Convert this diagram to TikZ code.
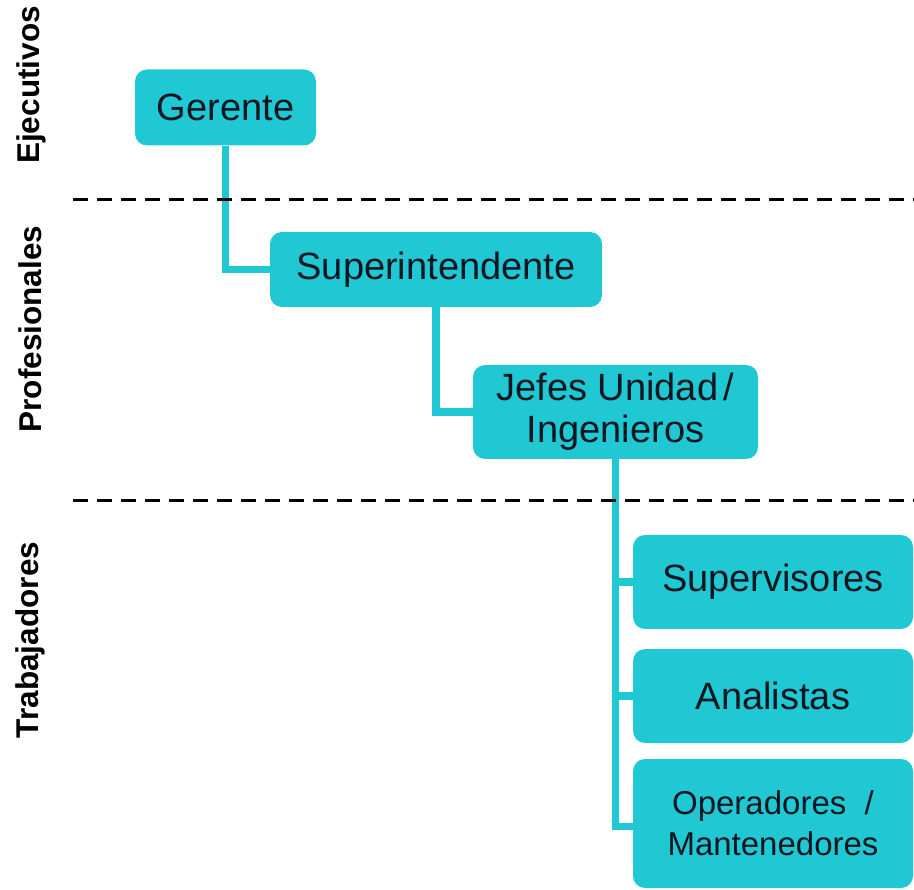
\documentclass[tikz,border=0pt]{standalone}
\usepackage{fontspec}
\setmainfont{Liberation Sans}
\usetikzlibrary{backgrounds}
\definecolor{boxteal}{RGB}{32,200,212}
\definecolor{txtdark}{RGB}{14,22,32}
\tikzset{
  orgbox/.style={draw=none, fill=boxteal, rounded corners=12pt, inner sep=0pt,
    text=txtdark, align=center, font=\fontsize{38}{42}\selectfont},
  conn/.style={draw=boxteal, line width=7.5pt, line join=miter},
  sepline/.style={draw=black, line width=3pt, dash pattern=on 15pt off 9pt},
  levellabel/.style={rotate=90, font=\bfseries\fontsize{31.5}{34}\selectfont, text=black, inner sep=0pt}
}
\begin{document}
\begin{tikzpicture}[x=1pt, y=-1pt]
\useasboundingbox (0,0) rectangle (914,890);
% level labels
\node[levellabel] (lEje) at (31,85) {Ejecutivos};
\node[levellabel] (lPro) at (30,329) {Profesionales};
\node[levellabel] (lTra) at (30,640) {Trabajadores};
% separators
\coordinate (s1a) at (73,200);
\coordinate (s1b) at (914,200);
\coordinate (s2a) at (73,501);
\coordinate (s2b) at (914,501);
\draw[sepline] (s1a) -- (s1b);
\draw[sepline] (s2a) -- (s2b);
% boxes
\node[orgbox, minimum width=181pt, minimum height=76pt] (ger) at (225.5,107.5) {Gerente};
\node[orgbox, minimum width=332pt, minimum height=75pt] (sup) at (436,269.5) {Superintendente};
\node[orgbox, minimum width=285pt, minimum height=94pt] (jef) at (615.5,412) {Jefes Unidad\kern0.15em/\\Ingenieros};
\node[orgbox, minimum width=280pt, minimum height=94pt] (sv) at (773,582) {Supervisores};
\node[orgbox, minimum width=280pt, minimum height=94pt] (an) at (773,696) {Analistas};
\node[orgbox, minimum width=280pt, minimum height=129pt, font=\fontsize{33}{41}\selectfont] (op) at (773,823.5) {Operadores~~/\\Mantenedores};
% connectors
\begin{scope}[on background layer]
\draw[conn] (ger.south) |- (sup.west);
\draw[conn] (sup.south) |- (jef.west);
\draw[conn] (jef.south) |- (sv.west);
\draw[conn] (jef.south) |- (an.west);
\draw[conn] (jef.south) |- ([yshift=-3pt]op.west);
\end{scope}
\end{tikzpicture}
\end{document}
